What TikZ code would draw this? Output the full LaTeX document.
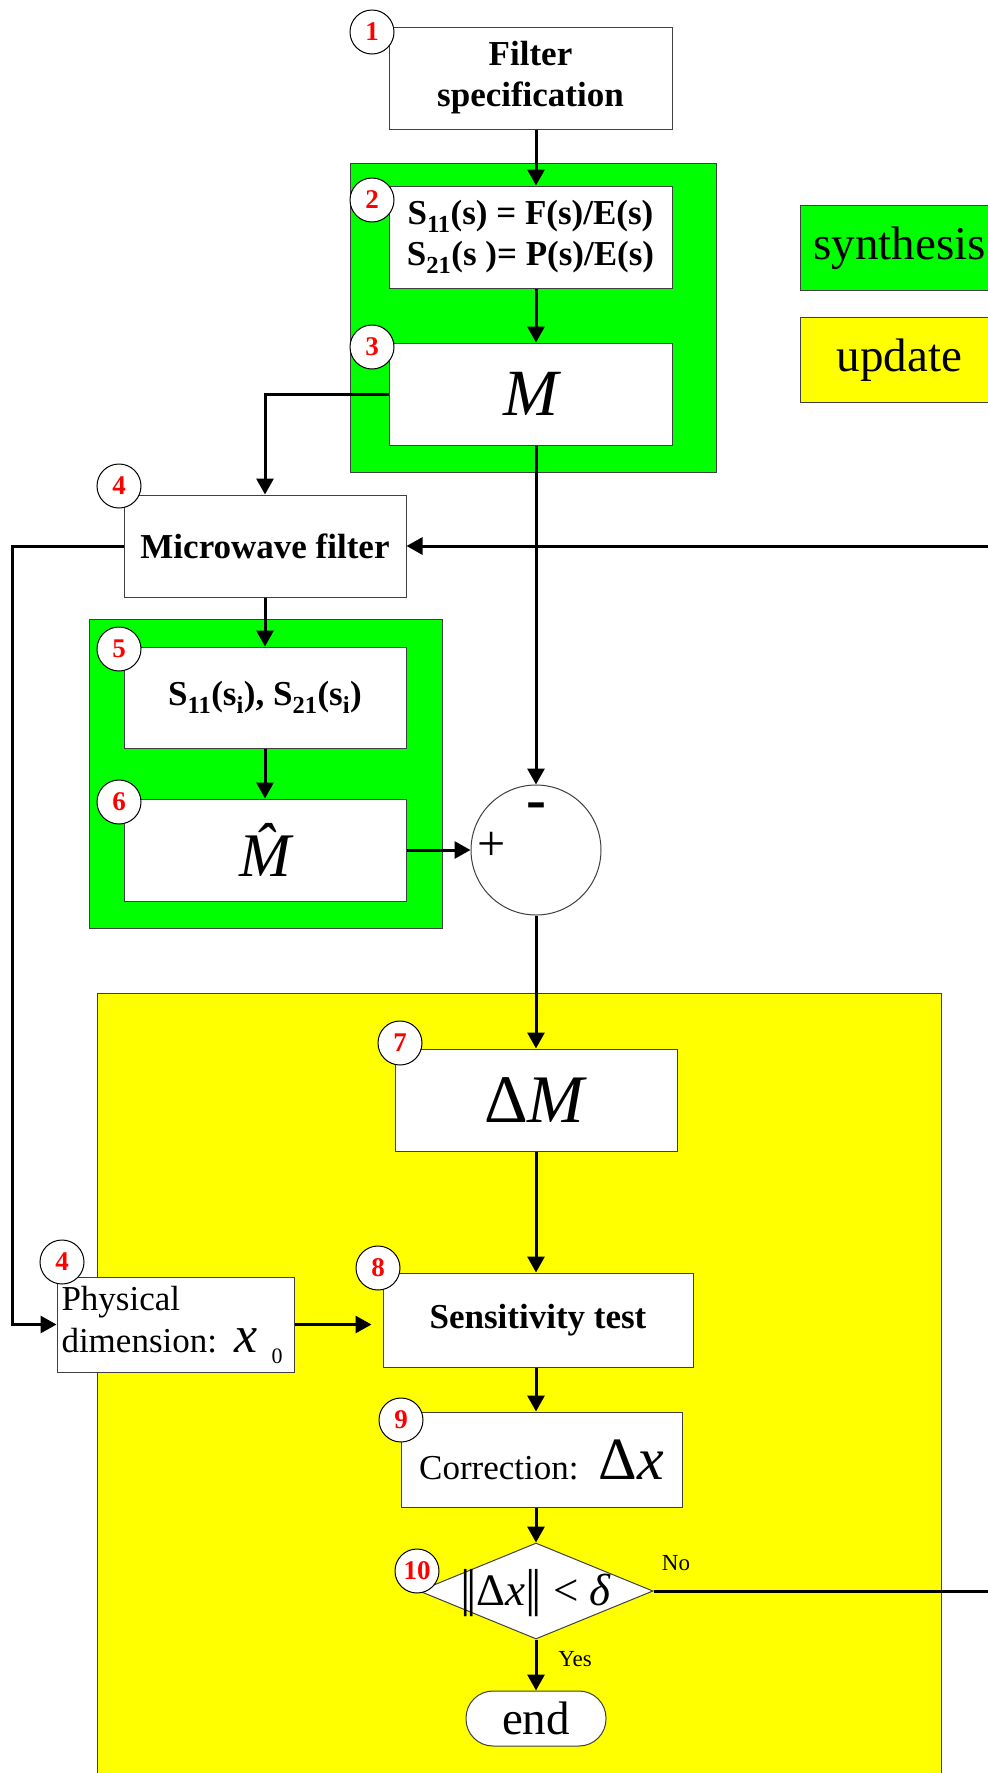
\documentclass[tikz,border=0pt]{standalone}
\usepackage{fontspec}
\setmainfont{Liberation Serif}
\usetikzlibrary{arrows.meta,shapes.geometric}
\definecolor{synthgreen}{HTML}{00FF00}
\definecolor{updyellow}{HTML}{FFFF00}
\definecolor{edgegray}{HTML}{404040}
\definecolor{numred}{HTML}{FF0000}
\newcommand\fsz[2]{\fontsize{#1}{#2}\selectfont}
\newcommand\dbar{{\fsz{52}{52}|\kern-4.5pt|}}
\begin{document}
\begin{tikzpicture}[x=1pt,y=-1pt,
  box/.style={draw=edgegray, line width=1pt, fill=white, inner sep=0pt, align=center},
  num/.style={circle, draw=black, line width=1pt, fill=white, minimum size=44pt, inner sep=0pt, text=numred, font=\fsz{27}{27}\bfseries},
  arr/.style={line width=3pt, -{Triangle[length=16pt,width=17pt]}},
  region/.style={draw=edgegray, line width=1pt},
  boldtxt/.style={font=\fsz{35}{41}\bfseries},
  lbl/.style={font=\fsz{23}{23}, inner sep=0pt}
]
\useasboundingbox (0,0) rectangle (988,1773);
\clip (0,0) rectangle (988,1773);
\fill[white] (0,0) rectangle (988,1773);

% coloured regions
\path[region, fill=synthgreen] (350,163) rectangle (716,472);
\path[region, fill=synthgreen] (89,619) rectangle (442,928);
\path[region, fill=updyellow] (97,993) rectangle (941,1800);

% legend
\node[box, fill=synthgreen, minimum width=198pt, minimum height=85pt, anchor=north west, font=\fsz{47}{47}] (legS) at (800,205) {synthesis};
\node[box, fill=updyellow, minimum width=198pt, minimum height=85pt, anchor=north west, font=\fsz{47}{47}] (legU) at (800,317) {update};

% boxes
\node[box, boldtxt, minimum width=283pt, minimum height=102pt] (b1) at (530.5,78) {Filter\\specification};
\node[box, boldtxt, minimum width=283pt, minimum height=102pt] (b2) at (530.5,237)
  {S\textsubscript{11}(s) = F(s)/E(s)\\S\textsubscript{21}(s )= P(s)/E(s)};
\node[box, minimum width=283pt, minimum height=102pt, font=\fsz{66}{66}\itshape] (b3) at (530.5,394) {M};
\node[box, boldtxt, minimum width=282pt, minimum height=102pt] (b4) at (265,546) {Microwave filter};
\node[box, boldtxt, minimum width=282pt, minimum height=101pt] (b5) at (265,697.5)
  {S\textsubscript{11}(s\textsubscript{i}), S\textsubscript{21}(s\textsubscript{i})};
\node[box, minimum width=282pt, minimum height=102pt, font=\fsz{62}{62}\itshape] (b6) at (265,850) {M\char"0302};
\node[circle, draw=edgegray, line width=1pt, fill=white, minimum size=130pt, inner sep=0pt] (sum) at (536,850) {};
\node[font=\fsz{50}{50}, inner sep=0pt, anchor=base] (plus) at (492,860) {+};
\node[font=\fsz{60}{60}\bfseries, inner sep=0pt, anchor=base] (minus) at (536,819) {-};
\node[box, minimum width=282pt, minimum height=102pt, font=\fsz{68}{68}] (b7) at (536,1100) {Δ\textit{M}};
\node[box, minimum width=237pt, minimum height=95pt, align=left, text width=228pt, font=\fsz{35}{42}] (b4b) at (175.5,1324.5)
  {Physical\\\mbox{dimension: {\fsz{52}{52}\itshape x}\hspace{14pt}\raisebox{-11pt}{\fsz{22}{22}0}}};
\node[box, boldtxt, minimum width=310pt, minimum height=94pt] (b8) at (538,1320) {Sensitivity test};
\node[box, minimum width=281pt, minimum height=95pt, font=\fsz{35}{42}] (b9) at (541.5,1459.5)
  {Correction:\hspace{20pt}{\fsz{60}{60}Δ\textit{x}}};
\node[diamond, draw=edgegray, line width=1pt, fill=white, minimum width=234pt, minimum height=96pt, inner sep=0pt] (dia) at (536,1591) {};
\node[font=\fsz{45}{45}, inner sep=0pt] (diatext) at (536,1593) {\dbar Δ\textit{x}\dbar\ < \textit{δ}};
\node[box, rounded corners=27pt, minimum width=140pt, minimum height=55pt, font=\fsz{47}{47}] (end) at (536,1718.5) {end};

% helper coordinates
\coordinate (spine) at (536,0);
\coordinate (lft) at (12,0);
\coordinate (rgt) at (1010,0);

% connectors
\draw[arr] (b1.south -| spine) -- (b2.north -| spine);
\draw[arr] (b2.south -| spine) -- (b3.north -| spine);
\draw[arr] (b3.west) -| (b4.north);
\draw[arr] (b3.south -| sum) -- (sum.north);
\draw[arr] (b4.south) -- (b5.north);
\draw[arr] (b5.south) -- (b6.north);
\draw[arr] (b6.east) -- (sum.west);
\draw[arr] (sum.south) -- (b7.north);
\draw[arr] (b7.south) -- (b8.north -| b7.south);
\draw[arr] (b8.south -| spine) -- (b9.north -| spine);
\draw[arr] (b9.south -| spine) -- (dia.north);
\draw[arr] (dia.south) -- (end.north);
\draw[arr] (b4.west) -- (b4.west -| lft) -- (b4b.west -| lft) -- (b4b.west);
\draw[arr, shorten >=11pt] (b4b.east) -- (b4b.east -| b8.west);
\draw[arr] (dia.east) -- (dia.east -| rgt) -- (b4.east -| rgt) -- (b4.east);

\node[lbl] (no) at (676,1563) {No};
\node[lbl] (yes) at (575,1659) {Yes};

% step numbers
\node[num] (n1) at (372,32) {1};
\node[num] (n2) at (372,200) {2};
\node[num] (n3) at (372,347) {3};
\node[num] (n4) at (119,486) {4};
\node[num] (n5) at (119,649) {5};
\node[num] (n6) at (119,802) {6};
\node[num] (n7) at (400,1043) {7};
\node[num] (n4b) at (62,1262) {4};
\node[num] (n8) at (378,1268) {8};
\node[num] (n9) at (401,1420) {9};
\node[num] (n10) at (417,1571) {10};
\end{tikzpicture}
\end{document}
